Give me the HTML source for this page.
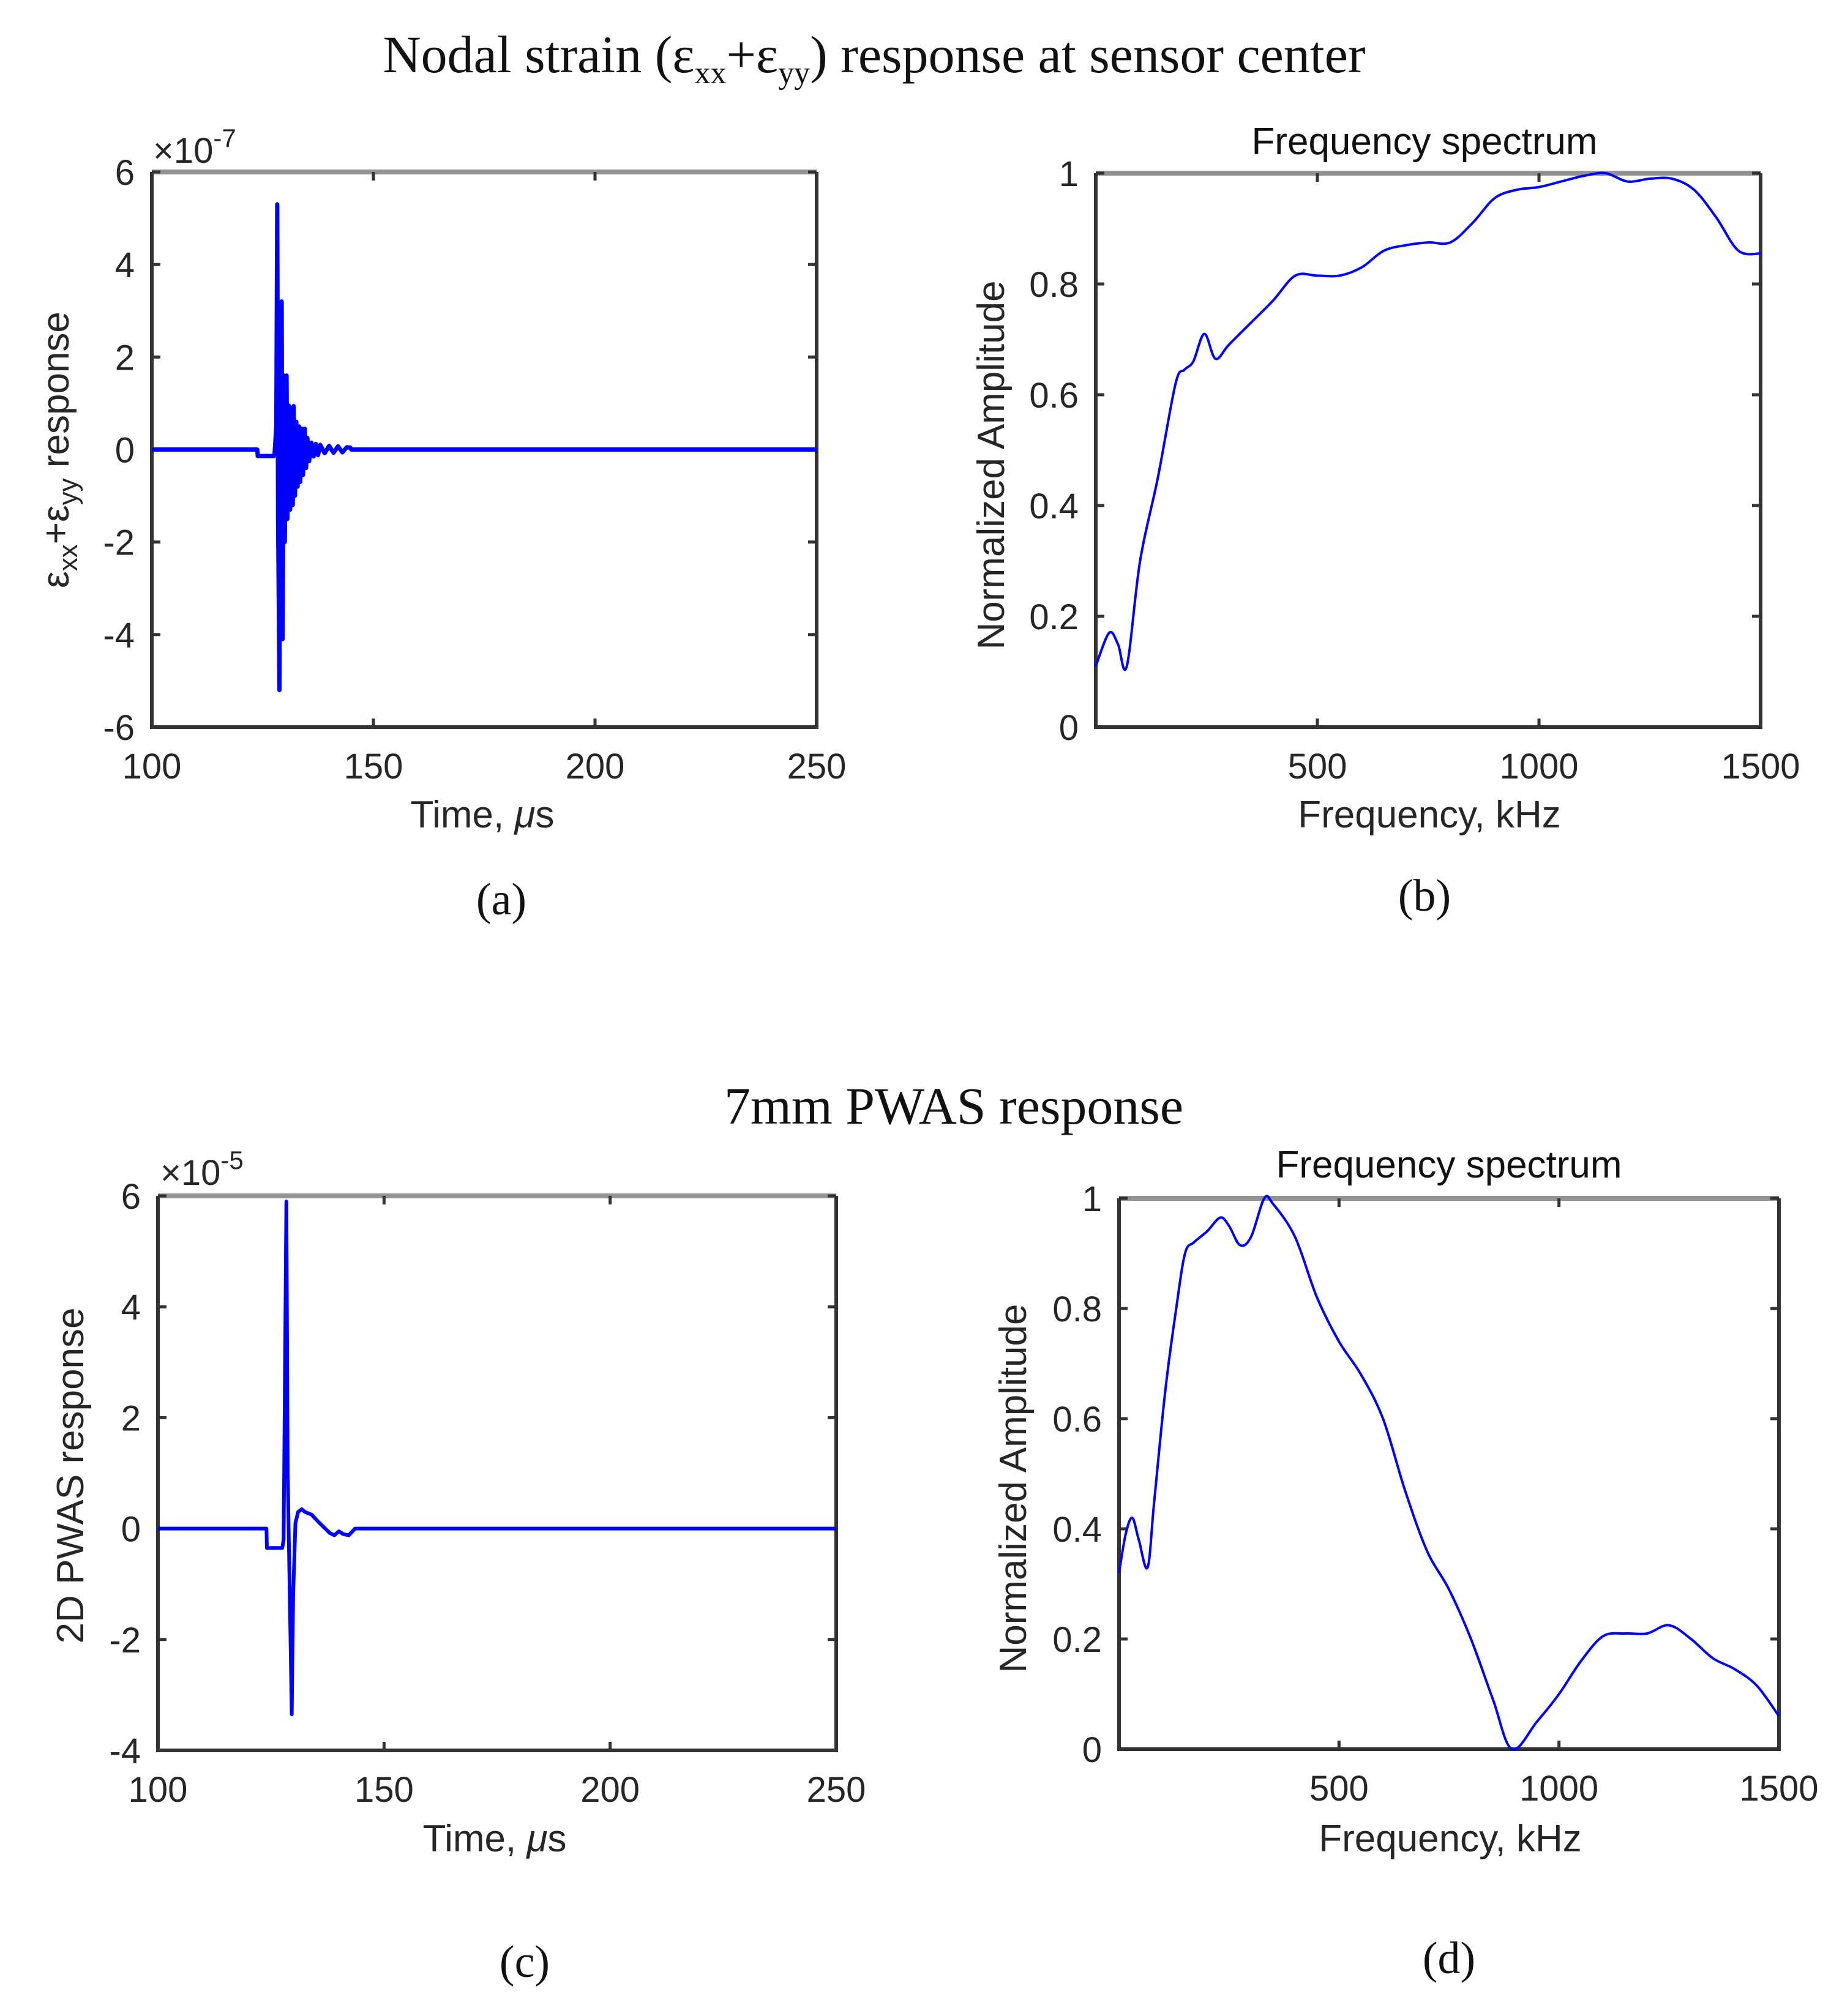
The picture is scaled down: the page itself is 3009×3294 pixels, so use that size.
<!DOCTYPE html>
<html><head><meta charset="utf-8">
<style>
html,body{margin:0;padding:0;background:#fff;}
svg{display:block;}
.tk{font-family:"Liberation Sans",sans-serif;font-size:58px;fill:#262626;}
.lb{font-family:"Liberation Sans",sans-serif;font-size:62px;fill:#262626;}
.ser{font-family:"Liberation Serif",serif;font-size:86px;fill:#111;}
.pl{font-family:"Liberation Serif",serif;font-size:74px;fill:#111;}
</style></head>
<body>
<svg id="fig" width="3009" height="3294" viewBox="0 0 3009 3294" xmlns="http://www.w3.org/2000/svg">
<text class="ser" x="1428" y="118" text-anchor="middle">Nodal strain (ε<tspan font-size="52" dy="18">xx</tspan><tspan dy="-18">+ε</tspan><tspan font-size="52" dy="18">yy</tspan><tspan dy="-18">)  response at sensor center</tspan></text>
<text class="ser" x="1558" y="1836" text-anchor="middle">7mm PWAS response</text>
<text class="pl" x="819" y="1494" text-anchor="middle">(a)</text>
<text class="pl" x="2327" y="1488" text-anchor="middle">(b)</text>
<text class="pl" x="857" y="3230" text-anchor="middle">(c)</text>
<text class="pl" x="2367" y="3224" text-anchor="middle">(d)</text>
<g class="lb">
<text x="250" y="266" class="tk" fill="#555">×10<tspan font-size="42" dy="-26">-7</tspan></text>
<text x="262" y="1936" class="tk" fill="#555">×10<tspan font-size="42" dy="-26">-5</tspan></text>
<text x="788" y="1352" text-anchor="middle">Time, <tspan font-style="italic">μ</tspan>s</text>
<text x="2335" y="1352" text-anchor="middle">Frequency, kHz</text>
<text x="808" y="3025" text-anchor="middle">Time, <tspan font-style="italic">μ</tspan>s</text>
<text x="2369" y="3025" text-anchor="middle">Frequency, kHz</text>
<text transform="translate(112,735) rotate(-90)" text-anchor="middle">ε<tspan font-size="44" dy="14">xx</tspan><tspan dy="-14">+ε</tspan><tspan font-size="44" dy="14">yy</tspan><tspan dy="-14"> response</tspan></text>
<text transform="translate(1640,760) rotate(-90)" text-anchor="middle">Normalized Amplitude</text>
<text transform="translate(136,2411) rotate(-90)" text-anchor="middle">2D PWAS response</text>
<text transform="translate(1676,2432) rotate(-90)" text-anchor="middle">Normalized Amplitude</text>
<text x="2327" y="252" text-anchor="middle" fill="#111">Frequency spectrum</text>
<text x="2367" y="1924" text-anchor="middle" fill="#111">Frequency spectrum</text>
</g>
<g id="plots"></g>
</svg>
<script>
// Panel (a): strain response (x1e-7)
const aTime = [100,123.8,123.9,127.5,127.7,128.1,128.3,128.5,128.8,129.0,129.3,129.5,129.8,130.0,130.4,130.6,130.9,131.2,131.5,131.8,132.0,132.3,132.6,132.9,133.2,133.5,133.8,134.1,134.5,134.8,135.1,135.5,136,136.5,137,137.5,138,139,140,141,142,143,144,144.8,145,250];
const aVal  = [0,0,-0.14,-0.14,-0.1,0.5,5.3,-1.5,-5.2,1.0,3.2,-4.1,1.6,-2.0,1.6,-1.5,0.95,-1.3,0.9,-1.2,0.94,-1.0,0.6,-0.8,0.5,-0.7,0.45,-0.55,0.45,-0.4,0.25,-0.25,0.15,-0.15,0.12,-0.12,0.1,-0.08,0.08,-0.07,0.07,-0.06,0.05,0.04,0,0];
// Panel (b): frequency spectrum of strain
const bFreq = [0,30,50,70,100,140,180,200,220,245,270,300,350,400,450,500,550,600,650,700,750,800,850,900,950,1000,1050,1100,1150,1200,1250,1300,1350,1400,1450,1500];
const bAmp  = [0.11,0.17,0.15,0.11,0.3,0.45,0.62,0.645,0.66,0.71,0.665,0.69,0.73,0.77,0.815,0.815,0.815,0.83,0.86,0.87,0.875,0.875,0.91,0.955,0.97,0.975,0.985,0.995,1.0,0.985,0.99,0.99,0.97,0.92,0.86,0.855];
// Panel (c): PWAS response (x1e-5)
const cTime = [100,124.0,124.1,127.5,127.8,128.4,128.7,129.6,129.9,130.4,131.0,131.8,132.5,134,135.5,137,138,139,140,141,142.2,143.6,250];
const cVal  = [0,0,-0.35,-0.35,-0.2,5.9,1.0,-3.35,-1.2,0.1,0.3,0.35,0.3,0.25,0.12,0.0,-0.08,-0.12,-0.05,-0.1,-0.12,0,0];
// Panel (d): frequency spectrum of PWAS
const dFreq = [0,15,30,45,65,80,105,130,150,170,200,230,250,275,300,330,350,400,450,500,550,600,650,700,750,800,850,893,950,1000,1050,1100,1150,1200,1250,1300,1350,1400,1450,1500];
const dAmp  = [0.32,0.39,0.42,0.38,0.33,0.45,0.65,0.8,0.9,0.92,0.94,0.965,0.95,0.915,0.93,1.0,0.99,0.93,0.82,0.74,0.68,0.6,0.47,0.36,0.29,0.2,0.09,0.0,0.05,0.1,0.16,0.205,0.21,0.21,0.225,0.2,0.165,0.145,0.115,0.06];

const xT = ['100','150','200','250'];
const xF = ['500','1000','1500'];
const yA = ['-6','-4','-2','0','2','4','6'];
const yC = ['-4','-2','0','2','4','6'];
const yN = ['0','0.2','0.4','0.6','0.8','1'];

const NS='http://www.w3.org/2000/svg';
const root=document.getElementById('plots');
function mk(tag,attrs,parent){const e=document.createElementNS(NS,tag);for(const k in attrs)e.setAttribute(k,attrs[k]);(parent||root).appendChild(e);return e;}

function smoothPath(pts){
  let d='M'+pts[0][0].toFixed(1)+','+pts[0][1].toFixed(1);
  for(let i=0;i<pts.length-1;i++){
    const p0=pts[Math.max(0,i-1)],p1=pts[i],p2=pts[i+1],p3=pts[Math.min(pts.length-1,i+2)];
    const c1=[p1[0]+(p2[0]-p0[0])/6,p1[1]+(p2[1]-p0[1])/6];
    const c2=[p2[0]-(p3[0]-p1[0])/6,p2[1]-(p3[1]-p1[1])/6];
    d+=` C${c1[0].toFixed(1)},${c1[1].toFixed(1)} ${c2[0].toFixed(1)},${c2[1].toFixed(1)} ${p2[0].toFixed(1)},${p2[1].toFixed(1)}`;
  }
  return d;
}

function panel(p){
  const g=mk('g',{});
  
  
  const sx=v=>p.L+(v-p.x0)/(p.x1-p.x0)*(p.R-p.L);
  const sy=v=>p.B-(v-p.y0)/(p.y1-p.y0)*(p.B-p.T);
  const top=mk('line',{x1:p.L,y1:p.T,x2:p.R,y2:p.T,stroke:'#939393','stroke-width':8},g);
  
  
  const fr=mk('path',{d:`M${p.L},${p.T} V${p.B} H${p.R} V${p.T}`,fill:'none',stroke:'#333','stroke-width':6},g);
  
  
  p.xt.forEach(t=>{const v=+t,x=sx(v);
    mk('line',{x1:x,y1:p.B,x2:x,y2:p.B-14,stroke:'#333','stroke-width':5},g);
    mk('line',{x1:x,y1:p.T,x2:x,y2:p.T+14,stroke:'#333','stroke-width':5},g);
    const tx=mk('text',{class:'tk',x:x,y:p.B+84,'text-anchor':'middle'},g);tx.textContent=t;
    
    
  });
  p.yt.forEach(t=>{const v=+t,y=sy(v);
    mk('line',{x1:p.L,y1:y,x2:p.L+14,y2:y,stroke:'#333','stroke-width':5},g);
    mk('line',{x1:p.R,y1:y,x2:p.R-14,y2:y,stroke:'#333','stroke-width':5},g);
    const tx=mk('text',{class:'tk',x:p.L-28,y:y+21,'text-anchor':'end'},g);tx.textContent=t;
    
    
  });
  const pts=p.xs.map((v,i)=>[sx(v),sy(p.ys[i])]);
  const d=p.smooth?smoothPath(pts):pts.map((q,i)=>(i?'L':'M')+q[0].toFixed(1)+','+q[1].toFixed(1)).join(' ');
  const ln=mk('path',{d:d,fill:'none',stroke:'#0000ff','stroke-width':p.sw,'stroke-linejoin':'round'},g);
  
  
  return g;
}

panel({name:'panel-a-strain',L:248,R:1334,T:281,B:1188,x0:100,x1:250,y0:-6,y1:6,xt:xT,yt:yA,xs:aTime,ys:aVal,sw:7,smooth:false});
panel({name:'panel-b-spectrum',L:1790,R:2876,T:283,B:1188,x0:0,x1:1500,y0:0,y1:1,xt:xF,yt:yN,xs:bFreq,ys:bAmp,sw:4,smooth:true});
panel({name:'panel-c-pwas',L:258,R:1366,T:1954,B:2860,x0:100,x1:250,y0:-4,y1:6,xt:xT,yt:yC,xs:cTime,ys:cVal,sw:6,smooth:false});
panel({name:'panel-d-spectrum',L:1828,R:2906,T:1958,B:2858,x0:0,x1:1500,y0:0,y1:1,xt:xF,yt:yN,xs:dFreq,ys:dAmp,sw:4,smooth:true});
</script>
</body></html>
